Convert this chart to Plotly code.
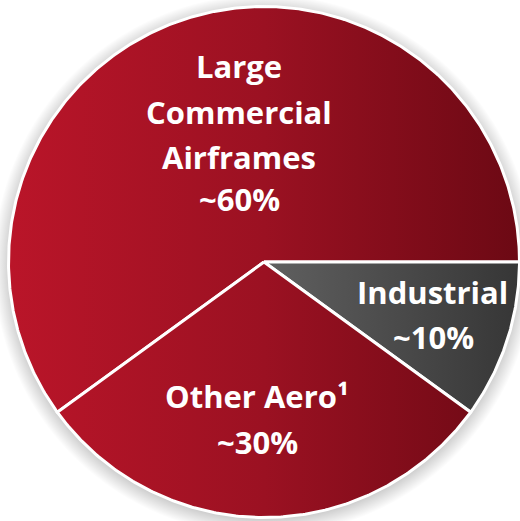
import numpy as np
import plotly.graph_objects as go

# Revenue mix by end market
segments = ["Large Commercial Airframes", "Industrial", "Other Aero"]
shares = [60, 10, 30]
label_lines = [["Large", "Commercial", "Airframes"], ["Industrial"], ["Other Aero¹"]]

# Slice fills: horizontal gradients (left -> right)
slice_scales = [
    [[0, "#BA1529"], [0.5, "#9B1122"], [1, "#6C0914"]],
    [[0, "#8A8A8A"], [0.55, "#5C5C5C"], [1, "#363636"]],
    [[0, "#BA1529"], [0.5, "#9B1122"], [1, "#6C0914"]],
]

W, H = 520, 521
R_PX = 255.5            # pie radius in pixels
CX, CY = 264, 262       # pie centre in pixels (from top-left)
START_DEG = -144        # first slice starts at lower-left, runs clockwise

fig = go.Figure()

# soft drop shadow under the pie
sh = np.linspace(0, 2 * np.pi, 361)
sr = (R_PX + 15) / R_PX
fig.add_trace(go.Scatter(
    x=sr * np.cos(sh), y=sr * np.sin(sh) - 3 / R_PX,
    mode="lines", line=dict(width=0), fill="toself",
    fillgradient=dict(type="radial", colorscale=[
        [0, "rgba(0,0,0,0.25)"], [0.93, "rgba(0,0,0,0.22)"], [1, "rgba(0,0,0,0)"]]),
    hoverinfo="skip", showlegend=False,
))

# wedges computed from the shares
total = sum(shares)
angle = START_DEG
for name, share, scale in zip(segments, shares, slice_scales):
    sweep = 360 * share / total
    t = np.radians(np.linspace(angle, angle - sweep, max(int(sweep * 2), 8)))
    xs = np.concatenate([[0], np.cos(t), [0]])
    ys = np.concatenate([[0], np.sin(t), [0]])
    fig.add_trace(go.Scatter(
        x=xs, y=ys, mode="lines", name=name,
        line=dict(color="white", width=3), fill="toself",
        fillgradient=dict(type="horizontal", colorscale=scale, start=-1, stop=1),
        hoverinfo="skip", showlegend=False,
    ))
    angle -= sweep

# label placement (pixel centre x, baseline y) for each line
label_pos = [
    [(239, 77), (239, 123), (239, 168), (239, 210)],
    [(432, 303), (433, 348)],
    [(257, 407), (257, 453)],
]
FONT = dict(family="'Open Sans', Lato, sans-serif", size=31, color="white")
for lines, share, pos in zip(label_lines, shares, label_pos):
    texts = lines + [f"~{share}%"]
    for txt, (px, py) in zip(texts, pos):
        fig.add_annotation(
            x=px / W, y=1 - (py - 11) / H, xref="paper", yref="paper",
            text=f"<b>{txt}</b>", showarrow=False, font=FONT,
            xanchor="center", yanchor="middle",
        )

fig.update_xaxes(range=[-CX / R_PX, (W - CX) / R_PX], visible=False, fixedrange=True)
fig.update_yaxes(range=[-(H - CY) / R_PX, CY / R_PX], visible=False, fixedrange=True)
fig.update_layout(
    width=W, height=H, margin=dict(l=0, r=0, t=0, b=0),
    paper_bgcolor="white", plot_bgcolor="white", showlegend=False,
)
fig.write_html("out.html")
